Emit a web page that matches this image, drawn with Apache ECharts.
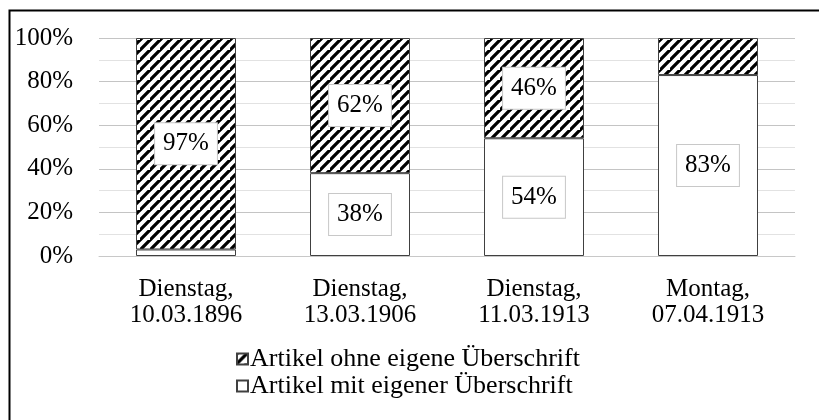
<!DOCTYPE html>
<html>
<head>
<meta charset="utf-8">
<script src="https://cdn.jsdelivr.net/npm/echarts@6/dist/echarts.min.js"></script>
<style>html,body{margin:0;padding:0;background:#fff;}#c{width:819px;height:420px;}</style>
</head>
<body>
<div id="c"></div>
<script>
var categories = ['Dienstag,\n10.03.1896', 'Dienstag,\n13.03.1906', 'Dienstag,\n11.03.1913', 'Montag,\n07.04.1913'];
var mitValues = [3, 38, 54, 83];
var ohneValues = [97, 62, 46, 17];
var seriesNames = ['Artikel mit eigener Überschrift', 'Artikel ohne eigene Überschrift'];
var yTicks = [0, 20, 40, 60, 80, 100];

function hatch() {
  var s = 10;
  var c = document.createElement('canvas');
  c.width = s; c.height = s;
  var g = c.getContext('2d');
  g.fillStyle = '#fff'; g.fillRect(0, 0, s, s);
  g.strokeStyle = '#000'; g.lineWidth = 3.3; g.lineCap = 'square';
  g.beginPath();
  g.moveTo(-1, s + 1); g.lineTo(s + 1, -1);
  g.moveTo(-s - 1, s + 1); g.lineTo(1, -1);
  g.moveTo(s - 1, 2 * s + 1); g.lineTo(2 * s + 1, s - 1);
  g.stroke();
  return { image: c, repeat: 'repeat' };
}

var FONT = '"Liberation Serif", "DejaVu Serif", serif';
var labelStyle = {
  show: true, position: 'inside', formatter: '{c}%',
  fontFamily: FONT, fontSize: 25, color: '#000',
  backgroundColor: '#fff', borderColor: '#c8c8c8', borderWidth: 1,
  padding: [9, 8, 7, 8]
};
function mk(vals) {
  return vals.map(function (v) {
    return v < 20 ? { value: v, label: { show: false } } : { value: v };
  });
}

var chart = echarts.init(document.getElementById('c'), null, { renderer: 'canvas' });
chart.setOption({
  animation: false,
  backgroundColor: '#fff',
  graphic: [{ type: 'rect', shape: { x: 9.5, y: 10.5, width: 830, height: 430 }, style: { fill: 'none', stroke: '#000', lineWidth: 2 }, silent: true }],
  grid: { left: 99, right: 24, top: 38, bottom: 164 },
  legend: {
    orient: 'vertical', left: 231, top: 341, itemGap: 1,
    itemWidth: 11, itemHeight: 11, icon: 'rect',
    data: [seriesNames[1], seriesNames[0]],
    textStyle: { fontFamily: FONT, fontSize: 26, color: '#000', padding: [0, 0, 0, -3] }
  },
  xAxis: {
    type: 'category', data: categories,
    axisLine: { lineStyle: { color: '#c8c8c8', width: 1 } },
    axisTick: { show: false },
    axisLabel: { fontFamily: FONT, fontSize: 25, color: '#000', lineHeight: 26, margin: 20 }
  },
  yAxis: {
    type: 'value', min: 0, max: 100, interval: 20,
    axisLine: { show: false }, axisTick: { show: false },
    axisLabel: { fontFamily: FONT, fontSize: 25, color: '#000', margin: 26, formatter: function (v) { return yTicks.indexOf(v) >= 0 ? v + '%' : ''; } },
    splitLine: { lineStyle: { color: '#c4c4c4', width: 1 } },
    minorTick: { show: false, splitNumber: 2 },
    minorSplitLine: { show: true, lineStyle: { color: '#e2e2e2', width: 1 } }
  },
  series: [
    { name: seriesNames[0], type: 'bar', stack: 'a', barWidth: 100, data: mk(mitValues),
      itemStyle: { color: '#fff', borderColor: '#404040', borderWidth: 1 }, label: labelStyle },
    { name: seriesNames[1], type: 'bar', stack: 'a', barWidth: 100, data: mk(ohneValues),
      itemStyle: { color: hatch(), borderColor: '#404040', borderWidth: 1 }, label: labelStyle }
  ]
});
</script>
</body>
</html>
